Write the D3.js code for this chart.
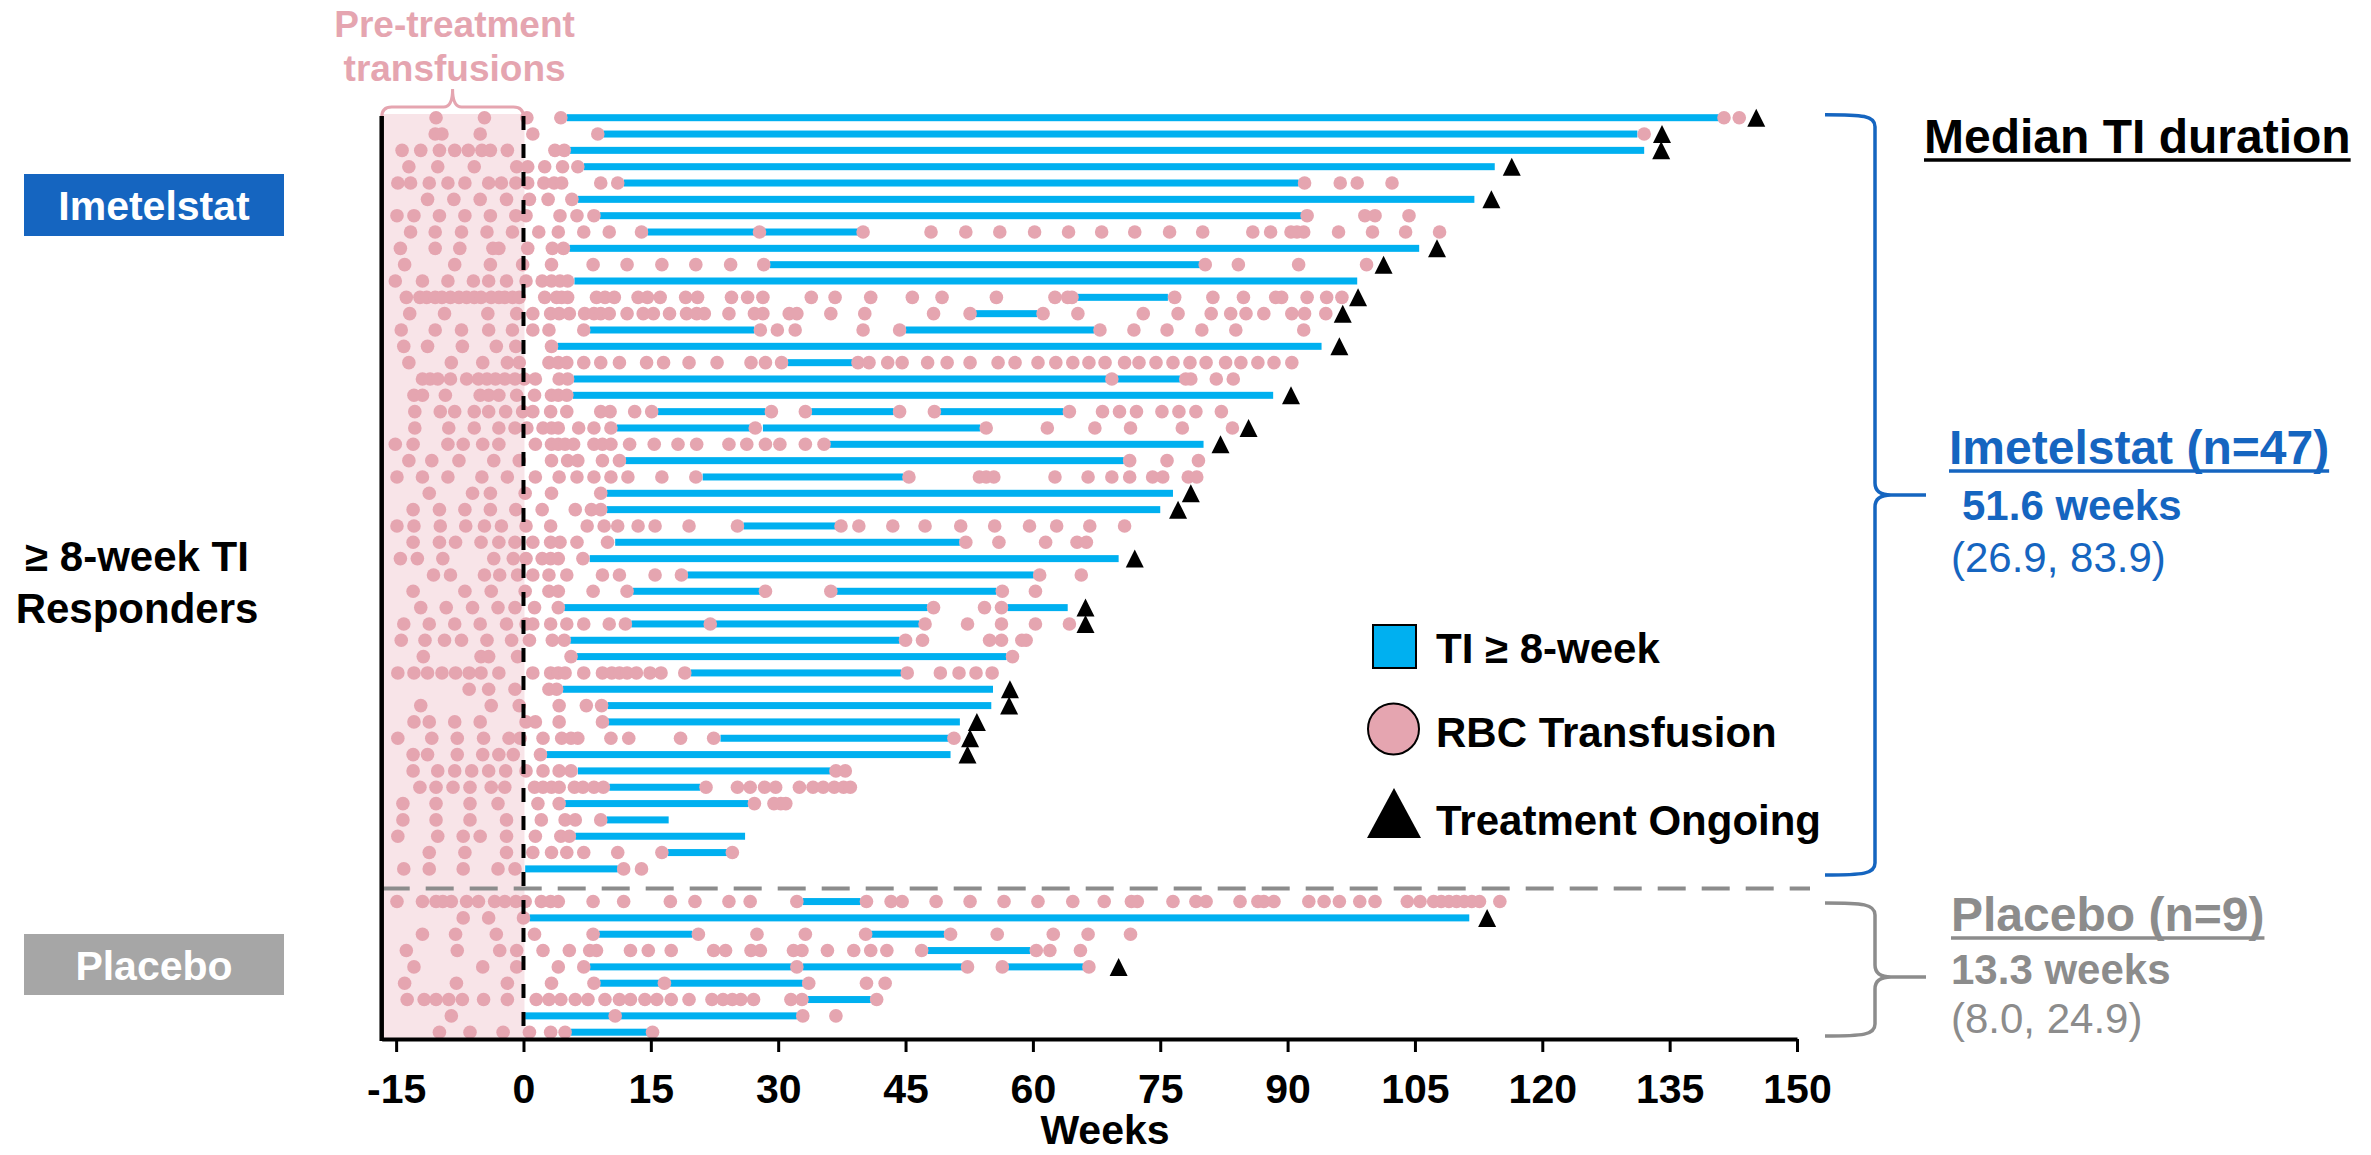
<!DOCTYPE html>
<html>
<head>
<meta charset="utf-8">
<script src="https://cdn.jsdelivr.net/npm/d3@7"></script>
<style>
  body { margin: 0; background: #fff; }
  svg { display: block; font-family: "Liberation Sans", Arial, sans-serif; }
</style>
</head>
<body>
<svg id="chart" width="2371" height="1155"></svg>
<script>
// ---- Data (weeks from start of treatment) ----
const xTickValues = [-15, 0, 15, 30, 45, 60, 75, 90, 105, 120, 135, 150];

// RBC transfusion timings per imetelstat responder (top to bottom)
const imetelstatTransfusionWeeks = [
  [-10.3, -4.6, 0.4, 4.4, 141.4, 143.2],
  [-10.4, -9.6, -5.1, 1.1, 8.75, 132.0],
  [-14.3, -12.1, -9.9, -8.1, -6.5, -4.9, -3.9, -1.9, 3.7, 4.8],
  [-13.5, -10.1, -5.8, -0.8, 0.5, 2.5, 4.6, 6.4],
  [-14.8, -13.3, -11.1, -8.9, -6.9, -4.1, -2.6, -0.9, 0.5, 2.4, 3.6, 4.5, 9.1, 11.1, 92.0, 96.2, 98.2, 102.3],
  [-11.3, -8.2, -5.1, -2.0, 0.7, 2.9, 5.7],
  [-14.9, -12.9, -9.9, -6.9, -3.9, -0.9, 0.3, 4.3, 6.3, 8.3, 92.3, 99.1, 100.3, 104.3],
  [-13.3, -10.4, -7.3, -4.3, -1.3, 1.8, 4.1, 7.1, 10.1, 13.9, 27.8, 40.0, 48.0, 52.1, 56.1, 60.2, 64.2, 68.1, 72.0, 76.1, 80.0, 85.9, 88.0, 90.4, 91.1, 91.9, 96.0, 100.0, 103.9, 107.9],
  [-14.5, -10.4, -7.5, -3.6, -2.9, 0.5, 3.4, 4.7],
  [-14.0, -8.1, -3.9, -0.1, 3.3, 8.2, 12.2, 16.3, 20.3, 24.4, 28.3, 80.3, 84.2, 91.3, 99.3],
  [-15.1, -11.9, -8.9, -5.9, -4.1, -2.0, 0.3, 2.2, 3.3, 4.3, 5.2],
  [-13.8, -12.2, -11.4, -10.4, -9.6, -8.6, -7.6, -6.7, -5.8, -5.0, -3.8, -2.9, -2.2, -1.3, -0.5, 2.5, 3.9, 4.5, 5.2, 8.6, 9.6, 10.7, 13.5, 14.6, 16.1, 19.1, 20.5, 24.5, 26.4, 28.2, 33.9, 36.7, 40.9, 45.8, 49.3, 55.7, 62.6, 64.1, 64.6, 76.7, 81.2, 84.8, 88.6, 89.3, 92.3, 94.6, 96.4],
  [-13.4, -9.3, -4.2, -0.8, 1.1, 3.2, 4.2, 5.4, 7.2, 8.3, 9.1, 10.1, 12.2, 14.1, 15.3, 17.2, 19.2, 20.4, 21.3, 24.2, 27.2, 28.2, 31.3, 32.2, 36.2, 40.2, 48.3, 52.6, 61.2, 65.3, 73.0, 77.1, 81.0, 83.3, 85.1, 87.2, 90.5, 92.0, 94.5],
  [-14.4, -10.4, -7.3, -4.1, -1.3, 1.1, 3.0, 7.1, 27.9, 29.9, 32.0, 40.0, 44.3, 67.9, 71.9, 75.8, 79.9, 83.9, 91.9],
  [-14.1, -11.3, -7.2, -3.2, -0.9, 3.3],
  [-13.5, -8.5, -4.8, -1.9, -0.5, 3.0, 4.1, 5.1, 7.1, 9.1, 11.3, 14.5, 16.5, 19.5, 22.8, 26.8, 28.5, 30.4, 39.4, 40.7, 42.9, 44.6, 47.6, 49.9, 52.6, 55.9, 57.9, 60.6, 62.7, 64.7, 66.6, 68.5, 70.8, 72.5, 74.5, 76.5, 78.5, 80.4, 82.7, 84.5, 86.5, 88.4, 90.5],
  [-11.9, -11.0, -10.1, -8.6, -6.7, -5.3, -4.3, -3.3, -2.2, -1.0, 0.1, 1.4, 4.2, 5.2, 69.3, 78.0, 78.6, 81.6, 83.6],
  [-12.9, -11.9, -9.2, -5.1, -4.1, -2.9, -0.8, 1.3, 3.3, 4.1, 5.1],
  [-12.8, -9.8, -8.1, -5.8, -4.1, -2.1, -0.1, 1.1, 3.2, 5.1, 9.1, 10.2, 13.1, 15.1, 29.2, 33.2, 44.3, 48.4, 64.3, 68.2, 70.2, 72.2, 75.2, 77.2, 79.2, 82.2],
  [-12.8, -8.8, -5.8, -2.9, -1.0, 0.4, 2.3, 3.3, 4.1, 6.5, 8.3, 10.3, 27.3, 54.5, 61.7, 67.3, 71.5, 77.6, 83.5],
  [-15.1, -13.0, -8.9, -7.1, -4.8, -2.9, 1.4, 3.3, 4.1, 4.9, 5.9, 8.3, 9.3, 10.3, 12.5, 15.4, 18.2, 20.4, 24.2, 26.3, 28.5, 30.2, 33.2, 35.4],
  [-13.5, -10.8, -7.6, -3.5, -0.5, 3.3, 5.2, 6.4, 9.3, 11.3, 71.4, 75.8, 79.5],
  [-14.9, -11.9, -8.9, -4.9, -1.9, 1.4, 4.2, 6.3, 8.3, 10.3, 12.3, 16.3, 20.3, 45.4, 53.7, 54.5, 55.4, 62.6, 66.5, 69.3, 71.4, 74.1, 75.3, 78.3, 79.3],
  [-11.1, -6.0, -3.9, 0.2, 3.3, 9.1],
  [-13.0, -9.9, -6.9, -3.9, -0.9, 2.2, 6.1, 8.0, 9.1],
  [-14.9, -12.9, -9.8, -6.8, -4.6, -2.6, 0.3, 3.2, 7.5, 9.5, 11.1, 13.5, 15.5, 19.5, 25.2, 37.4, 39.5, 43.5, 47.3, 51.5, 55.5, 59.6, 62.8, 66.7, 70.8],
  [-13.0, -9.9, -8.0, -5.0, -2.9, -1.0, 1.1, 3.2, 4.3, 6.3, 9.9, 52.1, 56.0, 61.5, 65.2, 66.3],
  [-14.5, -12.5, -9.5, -3.5, -1.2, 0.3, 2.2, 3.2, 4.1, 7.0],
  [-10.6, -8.6, -4.6, -2.8, -0.7, 1.1, 3.0, 5.1, 9.3, 11.3, 15.5, 18.6, 60.8, 65.7],
  [-13.0, -6.9, -3.8, 0.2, 3.0, 4.1, 8.2, 12.2, 28.5, 36.2, 56.4, 60.3],
  [-12.1, -9.1, -6.0, -3.0, -1.0, 1.3, 4.1, 48.3, 54.3, 56.3],
  [-14.1, -11.1, -8.1, -5.1, -2.0, 0.3, 1.1, 3.2, 5.1, 7.1, 10.1, 12.0, 22.0, 47.3, 52.3, 56.3, 60.3, 64.3],
  [-14.4, -11.6, -9.3, -7.3, -4.3, -1.4, 0.7, 3.4, 4.8, 45.0, 47.0, 54.9, 56.3, 58.7, 59.2],
  [-11.8, -5.0, -4.1, -0.7, 5.6, 57.6],
  [-14.8, -12.9, -11.3, -9.6, -8.0, -6.4, -5.0, -2.9, 1.1, 3.2, 4.1, 4.9, 7.1, 9.3, 10.4, 11.3, 12.2, 13.3, 14.9, 16.2, 19.0, 45.2, 49.1, 51.3, 53.3, 55.2],
  [-6.4, -4.1, -1.0, 3.0, 3.9],
  [-12.1, -3.8, -0.5, 4.2, 7.4, 9.2],
  [-12.9, -11.1, -8.1, -5.1, 0.3, 1.4, 4.2, 9.3],
  [-14.8, -10.8, -7.8, -4.7, -1.7, -0.4, 2.3, 4.5, 5.6, 6.4, 10.3, 12.4, 18.5, 22.4, 50.7],
  [-13.0, -11.3, -7.8, -4.8, -2.9, -1.2, 2.0],
  [-13.0, -10.1, -8.1, -6.1, -4.1, -2.1, 0.3, 2.3, 4.2, 5.6, 36.8, 37.9],
  [-12.2, -10.3, -8.3, -6.3, -3.8, -2.2, 1.3, 2.3, 3.3, 4.2, 6.0, 7.0, 8.3, 9.4, 21.5, 25.2, 26.7, 28.4, 29.7, 32.5, 34.1, 35.3, 36.6, 37.7, 38.5],
  [-14.2, -10.3, -6.3, -3.0, 1.7, 4.2, 27.2, 29.5, 30.3, 30.9],
  [-14.2, -10.3, -6.3, -2.0, 2.1, 4.9, 6.1, 9.1],
  [-14.8, -10.1, -7.1, -5.1, -2.0, 1.4, 4.4, 5.4],
  [-11.1, -6.9, -2.0, 1.1, 3.3, 5.1, 7.1, 11.1, 16.3, 24.6],
  [-14.1, -11.1, -7.1, -3.0, -1.0, 11.8, 13.9]
];

// Transfusion-independence periods (start, end) per imetelstat responder
const imetelstatTIPeriods = [
  [[5.1, 140.8]], [[9.4, 131.2]], [[5.4, 132.0]], [[7.1, 114.4]], [[11.8, 91.3]],
  [[6.4, 112.0]], [[9.0, 91.7]], [[14.6, 27.8], [28.4, 40.0]], [[5.4, 105.5]], [[29.0, 79.7]],
  [[6.0, 98.2]], [[65.1, 75.9]], [[53.3, 60.5]], [[7.8, 27.2], [45.0, 67.2]], [[4.0, 94.0]],
  [[31.1, 38.9]], [[5.9, 69.3], [69.3, 77.4]], [[5.8, 88.3]], [[15.8, 28.5], [33.9, 43.6], [49.0, 63.6]], [[11.0, 27.3], [28.2, 53.8]],
  [[36.0, 80.1]], [[12.0, 70.7]], [[21.1, 44.7]], [[9.8, 76.5]], [[9.8, 75.0]],
  [[25.9, 37.4]], [[10.8, 51.4]], [[7.8, 70.1]], [[19.3, 60.1]], [[12.9, 28.5], [36.8, 55.7]],
  [[4.8, 47.6], [57.0, 64.1]], [[12.7, 22.0], [22.0, 46.6]], [[5.5, 44.3]], [[6.3, 56.9]], [[19.7, 44.5]],
  [[4.6, 55.3]], [[9.9, 55.1]], [[9.9, 51.4]], [[23.2, 50.1]], [[2.7, 50.3]],
  [[6.4, 36.8]], [[10.1, 20.8]], [[4.9, 26.5]], [[9.8, 17.1]], [[6.1, 26.1]],
  [[17.0, 24.0]], [[0.2, 11.1]]
];

// Last follow-up week for patients still on treatment (null = off treatment)
const imetelstatOngoingWeek = [
  145.2, 134.1, 134.0, 116.4, null, 114.0, null, null, 107.6, 101.3,
  null, 98.3, 96.5, null, 96.1, null, null, 90.4, null, 85.4,
  82.1, null, null, 78.6, 77.1, null, null, 72.0, null, null,
  66.2, 66.2, null, null, null, 57.3, 57.2, 53.4, 52.6, 52.3,
  null, null, null, null, null, null, null
];

const placeboTransfusionWeeks = [
  [-14.9, -11.9, -10.3, -9.5, -8.5, -6.7, -5.3, -3.4, -2.2, -0.9, 0.2, 2.1, 3.2, 4.1, 8.2, 11.8, 17.3, 20.2, 24.2, 26.7, 32.2, 40.4, 43.3, 44.6, 48.6, 52.6, 56.6, 60.6, 64.7, 68.4, 71.6, 72.3, 76.5, 79.2, 80.4, 84.4, 86.5, 87.2, 88.4, 92.5, 94.3, 96.1, 98.5, 100.3, 104.1, 105.6, 107.2, 108.1, 109.0, 109.9, 110.8, 111.7, 112.6, 115.0],
  [-7.1, -4.1, 0.0],
  [-11.9, -8.0, -3.2, 1.3, 8.2, 20.6, 27.5, 33.2, 40.3, 50.3, 55.8, 62.4, 66.5, 71.5],
  [-13.8, -7.8, -2.8, -0.8, 2.3, 5.4, 7.8, 8.6, 12.6, 14.7, 17.4, 22.4, 23.8, 26.8, 27.9, 31.8, 32.8, 35.8, 38.9, 40.9, 42.8, 46.9, 60.4, 62.0, 65.6],
  [-12.9, -4.8, -0.8, 4.1, 7.1, 32.2, 52.3, 56.4, 66.6],
  [-14.0, -7.9, -1.9, 3.3, 8.3, 16.6, 33.6, 40.4, 42.6],
  [-13.7, -11.7, -10.3, -8.8, -7.2, -4.7, -1.9, 1.5, 3.0, 4.4, 6.1, 7.6, 9.6, 11.3, 12.6, 14.3, 15.7, 17.4, 19.5, 22.2, 23.5, 24.6, 25.6, 27.1, 31.5, 32.8, 41.6],
  [-8.5, 10.8, 32.9, 36.8],
  [-9.9, -6.3, -2.4, 0.7, 3.2, 4.9, 15.2]
];

const placeboTIPeriods = [
  [[32.9, 39.7]], [[0.7, 111.4]], [[8.9, 19.9], [40.9, 49.6]], [[47.6, 59.7]],
  [[7.8, 32.2], [32.9, 52.3], [57.0, 66.0]], [[9.0, 32.9]], [[33.5, 40.9]],
  [[0.2, 32.2]], [[5.6, 14.6]]
];

const placeboOngoingWeek = [null, 113.5, null, null, 70.1, null, null, null, null];

// ---- Layout ----
const COLORS = {
  ti: "#00b0f0",
  rbc: "#e5a5b0",
  preShade: "#f8e4e8",
  imetelstat: "#1565c0",
  placebo: "#8c8c8c",
  placeboBox: "#a6a6a6"
};
const X_START = -16.7;               // left edge of the plotting area (weeks)
const PLACEBO_FIRST_SLOT = 48;       // one empty slot separates the arms
const AXIS_Y = 1039;

const svg = d3.select("#chart");

const x = d3.scaleLinear().domain([X_START, 150]).range([381.7, 1797]);
const y = d3.scaleLinear().domain([0, 56]).range([117.7, 1032.2]);

const rows = [
  ...imetelstatTransfusionWeeks.map((dots, i) => ({
    slot: i, dots, ti: imetelstatTIPeriods[i], ongoing: imetelstatOngoingWeek[i]
  })),
  ...placeboTransfusionWeeks.map((dots, i) => ({
    slot: PLACEBO_FIRST_SLOT + i, dots, ti: placeboTIPeriods[i], ongoing: placeboOngoingWeek[i]
  }))
];

// Pre-treatment shaded window
svg.append("rect")
  .attr("x", x(X_START) + 1)
  .attr("y", 114)
  .attr("width", x(0) - x(X_START))
  .attr("height", AXIS_Y + 2 - 114)
  .attr("fill", COLORS.preShade);

// Bracket and caption above the pre-treatment window
const bx0 = x(X_START), bx1 = x(0), bxm = (bx0 + bx1) / 2, by = 107;
svg.append("path")
  .attr("d", `M${bx0},117 Q${bx0},${by} ${bx0 + 10},${by} L${bxm - 9},${by} Q${bxm},${by} ${bxm},${by - 18}` +
             ` Q${bxm},${by} ${bxm + 9},${by} L${bx1 - 10},${by} Q${bx1},${by} ${bx1},117`)
  .attr("fill", "none")
  .attr("stroke", COLORS.rbc)
  .attr("stroke-width", 3);

svg.append("text")
  .attr("x", bxm + 2).attr("y", 37)
  .attr("text-anchor", "middle")
  .attr("font-size", 37).attr("font-weight", "bold")
  .attr("fill", COLORS.rbc)
  .selectAll("tspan")
  .data(["Pre-treatment", "transfusions"])
  .join("tspan")
  .attr("x", bxm + 2)
  .attr("dy", (d, i) => i === 0 ? 0 : 44)
  .text(d => d);

// Swimmer rows
const rowG = svg.append("g").selectAll("g")
  .data(rows)
  .join("g")
  .attr("transform", d => `translate(0,${y(d.slot)})`);

rowG.selectAll("rect.ti")
  .data(d => d.ti)
  .join("rect")
  .attr("class", "ti")
  .attr("x", d => x(d[0]))
  .attr("y", -3.5)
  .attr("width", d => x(d[1]) - x(d[0]))
  .attr("height", 7)
  .attr("fill", COLORS.ti);

rowG.selectAll("circle")
  .data(d => d.dots)
  .join("circle")
  .attr("cx", d => x(d))
  .attr("cy", 0)
  .attr("r", 6.8)
  .attr("fill", COLORS.rbc);

rowG.filter(d => d.ongoing != null)
  .append("path")
  .attr("d", d => {
    const cx = x(d.ongoing);
    return `M${cx - 9},9 L${cx},-9 L${cx + 9},9 Z`;
  })
  .attr("fill", "#000");

// Divider between the arms
svg.append("line")
  .attr("x1", x(X_START)).attr("x2", 1810)
  .attr("y1", y(47.2)).attr("y2", y(47.2))
  .attr("stroke", "#8c8c8c")
  .attr("stroke-width", 4)
  .attr("stroke-dasharray", "28,16");

// Treatment start reference line
svg.append("line")
  .attr("x1", x(0)).attr("x2", x(0))
  .attr("y1", 116).attr("y2", AXIS_Y)
  .attr("stroke", "#000")
  .attr("stroke-width", 4)
  .attr("stroke-dasharray", "14,14");

// Left axis line
svg.append("line")
  .attr("x1", x(X_START)).attr("x2", x(X_START))
  .attr("y1", 116).attr("y2", AXIS_Y + 2)
  .attr("stroke", "#000")
  .attr("stroke-width", 4.5);

// X axis
const xAxis = svg.append("g")
  .attr("transform", `translate(0,${AXIS_Y})`)
  .call(d3.axisBottom(x)
    .tickValues(xTickValues)
    .tickFormat(d => String(d))
    .tickSizeInner(13).tickSizeOuter(0).tickPadding(22));
xAxis.select(".domain").attr("stroke", "#000").attr("stroke-width", 4);
xAxis.selectAll(".tick line").attr("stroke", "#000").attr("stroke-width", 3);
xAxis.selectAll(".tick text")
  .attr("font-family", "Liberation Sans, Arial, sans-serif")
  .attr("font-size", 41).attr("font-weight", "bold").attr("fill", "#000");

svg.append("text")
  .attr("x", 1105).attr("y", 1144)
  .attr("text-anchor", "middle")
  .attr("font-size", 41).attr("font-weight", "bold")
  .text("Weeks");

// Arm labels on the left
const armBoxes = [
  { label: "Imetelstat", y0: 174, h: 62, fill: COLORS.imetelstat },
  { label: "Placebo", y0: 934, h: 61, fill: COLORS.placeboBox }
];
armBoxes.forEach(b => {
  svg.append("rect").attr("x", 24).attr("y", b.y0).attr("width", 260).attr("height", b.h).attr("fill", b.fill);
  svg.append("text")
    .attr("x", 154).attr("y", b.y0 + b.h / 2 + 15)
    .attr("text-anchor", "middle")
    .attr("font-size", 41).attr("font-weight", "bold")
    .attr("fill", "#fff")
    .text(b.label);
});

svg.append("text")
  .attr("text-anchor", "middle")
  .attr("font-size", 42).attr("font-weight", "bold").attr("fill", "#000")
  .selectAll("tspan")
  .data(["≥ 8-week TI", "Responders"])
  .join("tspan")
  .attr("x", 137)
  .attr("y", (d, i) => 571 + i * 52)
  .text(d => d);

// Legend
const legend = svg.append("g");
legend.append("rect").attr("x", 1373).attr("y", 625).attr("width", 43).attr("height", 43)
  .attr("fill", COLORS.ti).attr("stroke", "#000").attr("stroke-width", 2);
legend.append("circle").attr("cx", 1393.5).attr("cy", 729).attr("r", 25.5)
  .attr("fill", COLORS.rbc).attr("stroke", "#000").attr("stroke-width", 2);
legend.append("path").attr("d", "M1367,838 L1394,788 L1421,838 Z").attr("fill", "#000");
[["TI ≥ 8-week", 663], ["RBC Transfusion", 747], ["Treatment Ongoing", 835]].forEach(([t, by]) => {
  legend.append("text").attr("x", 1436).attr("y", by)
    .attr("font-size", 42).attr("font-weight", "bold").attr("fill", "#000").text(t);
});

// Braces grouping each arm
function brace(xL, xV, xTip, yTop, yMid, yBot) {
  return `M${xL},${yTop} C${xV - 12},${yTop} ${xV},${yTop + 1} ${xV},${yTop + 12}` +
         ` L${xV},${yMid - 12} Q${xV},${yMid} ${xV + 16},${yMid} L${xTip},${yMid}` +
         ` M${xV + 16},${yMid} Q${xV},${yMid} ${xV},${yMid + 12}` +
         ` L${xV},${yBot - 12} C${xV},${yBot - 1} ${xV - 12},${yBot} ${xL},${yBot}`;
}
svg.append("path")
  .attr("d", brace(1825, 1875, 1926, 114.7, 495, 875))
  .attr("fill", "none").attr("stroke", COLORS.imetelstat).attr("stroke-width", 3.5);
svg.append("path")
  .attr("d", brace(1825, 1875, 1926, 903, 977, 1036))
  .attr("fill", "none").attr("stroke", COLORS.placebo).attr("stroke-width", 3.5);

// Median TI duration summary
function underlinedText(tx, ty, text, size, color, weight) {
  const t = svg.append("text").attr("x", tx).attr("y", ty)
    .attr("font-size", size).attr("font-weight", weight).attr("fill", color).text(text);
  const w = t.node().getComputedTextLength();
  svg.append("line").attr("x1", tx).attr("x2", tx + w)
    .attr("y1", ty + 7).attr("y2", ty + 7)
    .attr("stroke", color).attr("stroke-width", 3.5);
}
function plainText(tx, ty, text, size, color, weight) {
  svg.append("text").attr("x", tx).attr("y", ty)
    .attr("font-size", size).attr("font-weight", weight).attr("fill", color).text(text);
}
underlinedText(1924, 153, "Median TI duration", 48, "#000", "bold");
underlinedText(1949, 464, "Imetelstat (n=47)", 48, COLORS.imetelstat, "bold");
plainText(1962, 520, "51.6 weeks", 42, COLORS.imetelstat, "bold");
plainText(1951, 572, "(26.9, 83.9)", 42, COLORS.imetelstat, "normal");
underlinedText(1951, 931, "Placebo (n=9)", 48, COLORS.placebo, "bold");
plainText(1951, 984, "13.3 weeks", 42, COLORS.placebo, "bold");
plainText(1951, 1033, "(8.0, 24.9)", 42, COLORS.placebo, "normal");
</script>
</body>
</html>
